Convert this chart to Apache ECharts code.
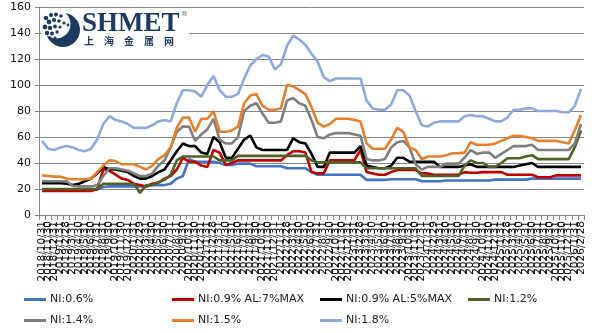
<!DOCTYPE html>
<html>
<head>
<meta charset="utf-8">
<title>NI 合金价格走势</title>
<script src="https://cdn.jsdelivr.net/npm/echarts@6.0.0/dist/echarts.min.js"></script>
<style>
  html, body { margin: 0; padding: 0; background: #fff; }
  #chart { width: 595px; height: 333px; }
</style>
</head>
<body>
<div id="chart"></div>
<script>
// Month-end dates on the category axis
const categories = [
  '2018/10/31','2018/11/30','2018/12/31',
  '2019/1/31','2019/2/28','2019/3/31','2019/4/30','2019/5/31','2019/6/30','2019/7/31','2019/8/31','2019/9/30','2019/10/31','2019/11/30','2019/12/31',
  '2020/1/31','2020/2/29','2020/3/31','2020/4/30','2020/5/31','2020/6/30','2020/7/31','2020/8/31','2020/9/30','2020/10/31','2020/11/30','2020/12/31',
  '2021/1/31','2021/2/28','2021/3/31','2021/4/30','2021/5/31','2021/6/30','2021/7/31','2021/8/31','2021/9/30','2021/10/31','2021/11/30','2021/12/31',
  '2022/1/31','2022/2/28','2022/3/31','2022/4/30','2022/5/31','2022/6/30','2022/7/31','2022/8/31','2022/9/30','2022/10/31','2022/11/30','2022/12/31',
  '2023/1/31','2023/2/28','2023/3/31','2023/4/30','2023/5/31','2023/6/30','2023/7/31','2023/8/31','2023/9/30','2023/10/31','2023/11/30','2023/12/31',
  '2024/1/31','2024/2/29','2024/3/31','2024/4/30','2024/5/31','2024/6/30','2024/7/31','2024/8/31','2024/9/30','2024/10/31','2024/11/30','2024/12/31',
  '2025/1/31','2025/2/28','2025/3/31','2025/4/30','2025/5/31','2025/6/30','2025/7/31','2025/8/31','2025/9/30','2025/10/31','2025/11/30','2025/12/31',
  '2026/1/31','2026/2/28'
];

// Y axis ticks
const yTicks = { min: 0, max: 160, step: 20 };

// Series values, one per month
const ni06 = [19.5,19.5,19.5,19.5,19.5,19.5,19.5,19.5,19.5,19.5,
  21.5,22,22,22,22,22,22,22,23,23,
  23,24,28,30,43,41,41,41,41,40,
  38.5,38.5,39.5,39.5,39.5,37.5,37.5,37.5,37.5,37.5,
  36,36,36,36,33,31,31,31,31,31,
  31,31,31,27,27,27,27,27.5,27.5,27.5,
  27.5,27.5,26,26,26,26,26.5,26.5,26.5,26.5,
  26.5,26.5,26.5,26.5,27.2,27.2,27.2,27.2,27.2,27.2,
  28,28,28,28,28,28,28,28,28];

const ni09al7 = [18.5,18.5,18.5,18.5,18.5,18.5,18.5,18.5,18.5,20,
  35,34,31,28,27,24,23,22,24,25,
  28,30,35,44,41,41,38,37,50,48,
  38.5,40,42,42,42,42,42,42,42,42,
  46,49,49,48,33,32,32,42,42,42,
  42,42,50,33,32,31,31,33,34.6,34.6,
  34.6,34.6,32,32,31,31,31,31,31,33,
  32.5,32.5,33,33,33,33,31,31,31,31,
  31,29,29,29,30.5,30.5,30.5,30.5,30.5];

const ni09al5 = [24.5,24.5,24.5,24.5,24,23,24,26,28,32,
  37,35,35,34,33,30,28,28,30,33,
  35,42,49,55,53,53,48,47,60,56,
  44,44,51,58,61,52,50,50,50,50,
  50,59,56,55,47,37,37,48,48,48,
  48,48,53,38,37,36,36,38,44,44,
  41,41,41,41,41,37,37,37,37,38,
  39,37,37,37,37,37,37,37,38,39,
  40,37,37,37,37,37,37,37,37];

const ni12 = [20,20,20,20,20,20,20,20,20,20,
  24,24,24,24,24,24,17,23,23,25,
  27,31,42,45,45,45,45,45,45,42,
  42,42,45.5,45.5,45.5,45.5,45.5,45.5,45.5,45.5,
  45.5,45.5,45.5,45.5,42,40.5,40.5,40.5,40.5,40.5,
  40.5,40.5,40.5,36,36,36,36,36,36,36,
  36,36,30,30,30,30,30,30,30,38,
  42,40,40,37,37,40,43.6,43.6,43.6,45,
  46,43,43,43,43,43,43,52,65];

const ni14 = [26,26,26,26,26,22.5,22,22,22,23,
  30,36,36,35,34,32,30,30,32,38,
  42,52,64,68,68,57,62,66,74,58,
  55,55,60,80,84,86,78,71,71,72,
  88,90,86,84,73,60,59,62,63,63,
  63,62,61,43,42,42,43,52,56,57,
  52,39,35,37,37,37,39.5,39.5,39.5,44,
  50,47,48,48,44,47,50,53,53,53,
  54,50,50,50,50,50,50,55,70];

const ni15 = [30.5,30,29.5,29.5,28,27.5,27.5,27.5,28,33,
  38,42,41.5,39,39,39,37,35,38,43,
  46,52,67,75,75,64,74,74,80,64,
  64,65,68,86,92,93,84,81,81,82,
  100,99,96,93,83,71,68,70,74,74,
  74,73,72,55,51,51,51,58,67,64,
  52,50,43,45,45,45,46,47.5,47.5,48,
  56,54,54,54,55,57,59,61,61,60,
  59,57,57,57,57,56,55,65,77];

const ni18 = [57,51,50,52,53,52,50,49,51,58,
  70,76,73,72,70,67,67,67,69,72,
  73,72,86,96,96,95,91,100,107,96,
  91,91,93,105,115,120,123,122,112,116,
  130,138,135,131,124,118,106,103,105,105,
  105,105,105,88,82,81,81,85,96,96,
  92,80,69,68,71,72,72,72,72,76,
  77,76,76,74,72,72,75,81,81,82,
  82,80,80,80,80,79,79,84,97];

const seriesNames = ['NI:0.6%', 'NI:0.9% AL:7%MAX', 'NI:0.9% AL:5%MAX', 'NI:1.2%', 'NI:1.4%', 'NI:1.5%', 'NI:1.8%'];
const seriesData = [ni06, ni09al7, ni09al5, ni12, ni14, ni15, ni18];
const seriesColors = ['#4472c4', '#c00000', '#000000', '#4f6228', '#7f7f7f', '#e5802f', '#8eaadb'];

// Legend grid: four columns, two rows
const legendCols = [24, 172, 320, 468];
const legendRows = [294, 315];

const chart = echarts.init(document.getElementById('chart'), null, { renderer: 'canvas' });

const legends = seriesNames.map((name, i) => ({
  data: [name],
  left: legendCols[i % 4],
  top: legendRows[Math.floor(i / 4)],
  orient: 'horizontal',
  icon: 'rect',
  itemWidth: 22,
  itemHeight: 3,
  itemGap: 4,
  selectedMode: false,
  padding: 0,
  textStyle: { fontFamily: 'DejaVu Sans', fontSize: 11, color: '#222', padding: [0, 0, 0, -1] }
}));

const navy = '#1d3a5f';
// SHMET 上海金属网 logo
const logo = [
  { type: 'rect', shape: { x: 41, y: 9, width: 148, height: 40 }, style: { fill: '#ffffff' }, z: 10 },
  { type: 'circle', shape: { cx: 63, cy: 30, r: 17 }, style: { fill: navy }, z: 11 },
  { type: 'circle', shape: { cx: 56, cy: 24, r: 14.5 }, style: { fill: '#ffffff' }, z: 12 },
  ...[[46,18,2.2],[51,15,2],[56,14.5,2],[61,16,1.8],[49,22,2.4],[54,20,2.1],[59,21,1.8],[64,23,1.6],
      [45,27,2.4],[50,28,2.2],[55,26.5,1.9],[60,27,1.6],[47,33,2.2],[52,33.5,2],[57,32,1.7],[50,38,1.8],[55,38,1.6],[68,25,1.4]]
    .map(([cx, cy, r]) => ({ type: 'circle', shape: { cx, cy, r }, style: { fill: navy }, z: 13 })),
  { type: 'text', x: 82, y: 11, style: { text: 'SHMET', font: 'bold 27px "Liberation Serif"', fill: navy }, z: 13 },
  { type: 'text', x: 181, y: 11, style: { text: '®', font: '7px "DejaVu Sans"', fill: '#666' }, z: 13 },
  { type: 'text', x: 84, y: 36, style: { text: '上　海　金　属　网', font: 'bold 10px "Noto Sans CJK SC"', fill: navy }, z: 13 }
];

chart.setOption({
  animation: false,
  backgroundColor: '#ffffff',
  grid: { left: 39, right: 11, top: 7, bottom: 118, containLabel: false },
  legend: legends,
  graphic: logo,
  xAxis: {
    type: 'category',
    data: categories,
    boundaryGap: true,
    axisLine: { show: true, lineStyle: { color: '#868686', width: 1 } },
    axisTick: { show: true, interval: 0, length: 5, lineStyle: { color: '#868686' } },
    axisLabel: { interval: 0, rotate: 90, fontFamily: 'DejaVu Sans', fontSize: 10.5, color: '#111', margin: 6 },
    splitLine: { show: false }
  },
  yAxis: {
    type: 'value',
    min: yTicks.min,
    max: yTicks.max,
    interval: yTicks.step,
    axisLine: { show: true, lineStyle: { color: '#868686', width: 1 } },
    axisTick: { show: true, length: 4, lineStyle: { color: '#868686' } },
    axisLabel: { fontFamily: 'DejaVu Sans', fontSize: 11, color: '#111', margin: 8 },
    splitLine: { show: true, lineStyle: { color: '#868686', width: 1 } }
  },
  series: seriesNames.map((name, i) => ({
    name,
    type: 'line',
    data: seriesData[i],
    symbol: 'none',
    smooth: false,
    color: seriesColors[i],
    lineStyle: { color: seriesColors[i], width: 2.6 },
    emphasis: { disabled: true }
  }))
});
</script>
</body>
</html>
